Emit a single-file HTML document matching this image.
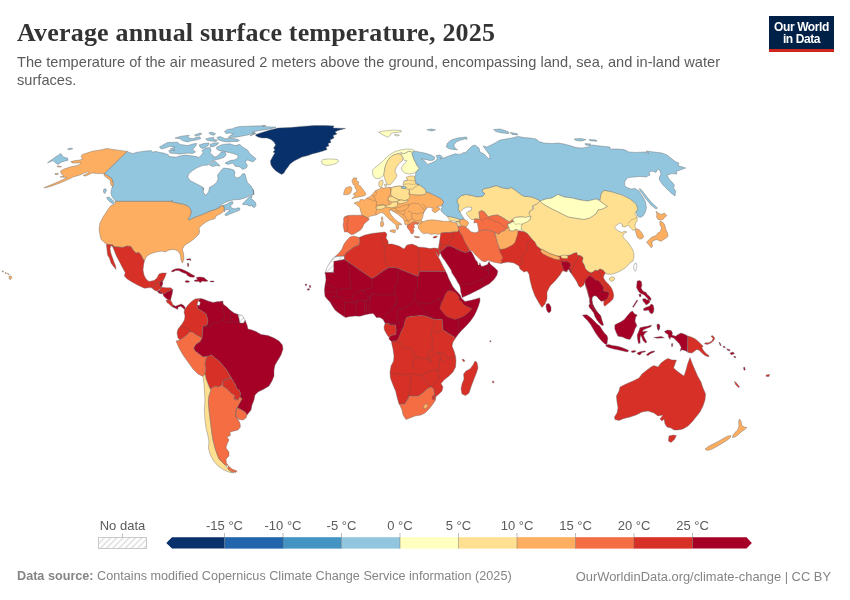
<!DOCTYPE html>
<html lang="en"><head><meta charset="utf-8"><title>Average annual surface temperature, 2025</title>
<style>
html,body{margin:0;padding:0;background:#fff;}
body{width:850px;height:600px;position:relative;overflow:hidden;font-family:"Liberation Sans",sans-serif;}
#title{position:absolute;left:17px;top:17.5px;margin:0;font-family:"Liberation Serif",serif;font-weight:bold;font-size:26px;line-height:30px;color:#333;white-space:nowrap;letter-spacing:0.19px;}
#sub{position:absolute;left:17px;top:53px;margin:0;font-size:14.6px;line-height:18px;color:#5b5b5b;width:760px;letter-spacing:0.013px;}
#logo{position:absolute;left:769px;top:16px;width:65px;height:33px;background:#002147;border-bottom:3px solid #ce261e;color:#fff;font-weight:bold;font-size:12px;line-height:12.2px;text-align:center;letter-spacing:-0.4px;}
#logo span{display:block;}
#logo span:first-child{margin-top:4.5px;}
#foot{position:absolute;left:17px;top:569px;font-size:12.65px;color:#858585;white-space:nowrap;}
#foot b{color:#858585;}
#foot2{position:absolute;right:19px;top:569px;font-size:12.9px;color:#858585;white-space:nowrap;}
svg{position:absolute;left:0;top:0;}
svg text{font-family:"Liberation Sans",sans-serif;}
</style></head><body>
<h1 id="title">Average annual surface temperature, 2025</h1>
<p id="sub">The temperature of the air measured 2 meters above the ground, encompassing land, sea, and in-land water surfaces.</p>
<div id="logo"><span>Our World</span><span>in Data</span></div>
<div id="foot"><b>Data source:</b> Contains modified Copernicus Climate Change Service information (2025)</div>
<div id="foot2">OurWorldinData.org/climate-change | CC BY</div>
<svg width="850" height="600" viewBox="0 0 850 600">
<defs><pattern id="hatch" width="4.4" height="4.4" patternUnits="userSpaceOnUse" patternTransform="rotate(45)"><rect width="4.4" height="4.4" fill="#fff"/><line x1="1" y1="0" x2="1" y2="4.4" stroke="#e0e0e0" stroke-width="1.5"/></pattern></defs>
<g id="map" stroke="#666" stroke-width="0.4" stroke-linejoin="round">
<path fill="#d73027" d="M501.6,263.2 508.0,262.0 514.0,263.0 519.0,266.0 520.0,269.0 524.0,272.0 527.0,271.0 529.0,274.0 530.0,280.0 532.0,288.0 535.0,296.0 539.0,303.0 542.0,307.6 545.0,304.0 547.0,299.0 547.0,292.0 550.0,286.0 555.0,281.0 560.0,275.0 562.4,271.0 564.0,271.0 567.0,272.0 568.0,269.0 569.4,270.6 571.9,274.4 574.4,278.1 576.9,281.9 578.8,286.2 580.6,287.5 583.8,285.0 585.0,281.9 585.6,286.2 586.9,290.0 588.1,294.4 589.4,298.8 589.8,302.5 590.6,305.6 592.8,308.8 595.0,311.9 596.9,315.0 598.8,318.1 600.0,321.2 601.9,324.4 603.1,325.0 601.2,320.0 600.2,316.2 598.1,313.1 596.2,310.6 594.0,306.9 592.5,303.8 591.9,300.0 592.2,296.9 594.4,295.6 596.9,296.2 598.8,298.8 601.2,301.2 603.8,300.6 603.8,304.8 604.8,306.2 607.5,304.0 610.6,301.5 613.0,299.0 613.8,295.6 613.1,291.9 611.5,288.1 608.8,284.4 605.6,281.2 603.5,278.1 603.8,275.6 605.6,273.1 603.1,270.0 600.0,268.8 597.5,270.6 595.0,270.0 592.8,271.9 590.6,272.5 588.1,271.2 585.6,268.8 584.4,265.0 582.5,261.9 583.1,257.5 580.6,255.6 577.5,255.0 576.9,252.5 574.0,253.0 570.0,255.0 566.0,255.6 561.0,256.0 557.0,256.0 551.0,254.0 545.0,251.0 541.0,249.0 537.0,246.0 535.0,242.0 532.0,239.0 529.6,236.0 527.0,233.0 524.0,231.6 520.0,231.0 516.0,231.0 512.0,238.0 506.0,243.0 500.0,247.0 497.0,252.0 498.0,258.0 500.0,263.0Z"/>
<path fill="#08306b" d="M256.0,134.4 262.0,132.4 270.0,130.0 278.0,128.0 290.0,127.6 302.0,126.4 314.0,125.6 326.0,125.6 334.0,126.0 333.0,128.0 345.6,128.4 338.0,130.4 335.0,132.0 337.0,134.0 333.0,135.6 334.0,138.0 330.0,140.0 331.0,142.4 328.0,143.6 329.0,146.0 326.0,147.0 327.0,149.6 323.0,151.0 318.0,152.4 312.0,154.0 308.0,155.6 302.0,157.0 298.0,159.0 294.0,161.0 290.0,164.0 288.0,167.0 285.6,170.0 284.0,173.0 281.6,174.4 279.0,173.0 276.0,171.0 273.0,168.0 271.0,165.0 270.4,161.0 272.0,158.0 273.6,155.0 275.0,153.0 273.0,152.0 275.0,150.0 273.6,148.0 275.6,145.0 274.0,142.0 271.0,139.6 267.0,138.0 262.0,138.0 258.0,137.0 255.6,135.6Z"/>
<path fill="#ffffbf" d="M321.4,161.0 323.0,159.6 328.0,159.0 333.0,159.0 337.6,159.6 338.4,161.6 336.0,163.6 331.0,165.0 326.0,165.4 322.4,164.0Z"/>
<path fill="#fdae61" d="M127.4,151.4 120.0,150.4 110.0,149.0 107.0,148.4 100.0,150.0 92.4,151.2 87.0,153.0 82.4,154.4 81.0,157.0 83.0,159.0 80.0,160.0 75.0,160.6 71.0,161.6 72.0,163.0 78.0,163.0 81.0,162.6 79.0,165.0 70.0,167.0 64.0,169.0 60.6,171.0 61.0,173.6 64.0,176.0 60.0,177.0 67.0,177.4 62.0,180.0 54.0,183.6 44.4,187.4 44.4,188.0 52.0,186.0 60.0,183.0 68.0,179.6 73.0,177.0 80.0,175.0 83.0,173.6 88.0,171.6 89.0,172.4 83.0,175.6 86.0,176.0 92.0,173.0 98.0,173.6 104.4,173.6 109.0,176.4 112.0,178.4 113.6,184.0 113.0,187.0 111.0,185.0 110.0,180.0 107.0,178.0 104.0,175.6 104.4,173.6Z"/>
<path fill="#92c5de" d="M127.4,151.4 104.4,173.6 109.0,176.4 112.0,178.4 113.6,184.0 112.4,187.0 111.6,189.0 111.0,192.0 111.4,195.6 113.4,198.6 115.6,201.4 171.0,201.4 171.9,201.5 171.9,200.6 172.5,202.2 178.8,203.5 183.8,204.4 188.1,206.2 190.6,209.4 191.2,212.5 190.0,216.2 188.1,218.8 189.0,220.2 193.1,218.1 197.5,216.5 201.2,215.0 205.0,213.5 210.0,211.2 215.0,209.8 219.4,207.8 221.2,206.2 224.0,206.0 224.2,212.0 225.2,210.0 228.1,209.5 230.0,210.8 227.5,212.0 224.8,214.6 226.0,215.9 230.0,214.0 235.0,212.1 239.5,210.2 240.0,208.2 237.8,207.8 235.0,209.0 231.2,207.8 230.6,205.6 233.1,203.5 232.5,201.5 230.0,202.2 226.2,204.4 222.5,205.6 220.0,206.9 218.5,206.9 221.2,204.8 224.4,202.8 228.8,201.0 233.8,199.8 240.0,199.4 246.2,197.5 250.0,195.6 253.5,194.4 254.0,192.5 253.1,189.4 253.8,195.0 253.1,190.0 251.2,186.2 247.5,182.5 246.2,178.8 245.0,173.8 242.5,173.8 240.0,176.9 236.2,178.1 234.4,175.6 235.0,172.5 233.8,170.0 230.0,168.8 223.8,168.1 221.9,169.4 220.0,171.9 217.5,175.0 218.1,178.8 216.9,181.9 213.8,185.0 209.4,187.5 208.8,191.2 208.1,192.5 205.6,195.6 203.5,192.5 203.1,187.5 203.8,190.0 202.5,186.9 198.8,185.0 193.8,182.5 189.4,180.0 187.8,176.9 188.8,173.8 192.5,170.6 197.5,167.5 202.5,165.6 208.1,165.0 210.0,163.1 212.5,161.0 215.0,160.0 220.0,158.8 223.8,157.5 226.2,155.0 225.0,151.9 221.2,151.9 220.0,153.8 216.9,156.2 213.1,157.5 213.8,156.2 211.9,154.4 210.0,152.8 211.2,150.6 210.0,147.5 206.2,148.1 201.9,150.6 203.1,152.8 201.2,155.2 199.0,157.5 196.2,156.5 190.0,155.6 185.0,155.0 178.8,156.2 176.2,157.2 168.8,156.5 168.1,154.4 167.5,154.4 163.8,153.1 160.0,152.5 156.2,151.5 152.5,151.9 151.2,150.6 143.8,151.2 137.5,152.2 132.5,153.5 127.8,151.9Z"/>
<path fill="#92c5de" d="M106.6,197.6 109.0,197.0 112.0,199.6 114.4,202.4 113.0,204.0 110.0,202.0 107.6,199.6Z"/>
<path fill="#92c5de" d="M103.6,189.6 105.6,188.6 106.4,190.4 104.8,193.6 103.4,192.0Z"/>
<path fill="#92c5de" d="M242.5,203.8 246.2,200.0 249.4,196.9 252.2,195.6 251.2,198.8 253.1,200.0 255.6,202.5 256.0,205.6 254.4,207.5 252.5,206.9 252.2,205.0 250.0,206.2 247.5,205.0 245.0,204.4 243.1,204.8Z"/>
<path fill="#92c5de" d="M216.9,146.9 222.5,144.4 230.0,143.8 235.0,145.6 240.0,144.4 242.5,146.9 247.5,150.0 250.0,153.8 256.2,158.8 253.1,161.9 247.5,160.0 245.0,161.9 247.5,165.6 246.2,168.1 242.5,169.4 240.0,166.9 235.0,166.2 233.1,163.1 227.5,164.4 225.0,163.1 230.0,160.6 235.0,159.8 238.1,157.5 237.5,155.0 233.8,153.8 230.0,152.8 226.2,151.9 222.5,151.2 218.8,150.6 216.5,149.0Z"/>
<path fill="#92c5de" d="M209.4,165.0 212.5,161.9 215.0,161.2 218.8,164.4 220.0,166.0 216.2,165.6 212.5,166.5Z"/>
<path fill="#92c5de" d="M159.4,146.9 167.5,142.5 177.5,142.2 180.0,144.4 187.5,145.6 193.8,143.8 196.9,143.5 195.0,146.9 192.5,149.4 195.6,151.9 192.5,153.5 187.5,153.1 180.0,154.0 175.0,153.5 170.0,153.1 168.8,150.6 175.0,150.0 170.0,149.0 175.0,147.2 170.0,146.2 165.0,148.1 161.2,149.0Z"/>
<path fill="#92c5de" d="M175.0,138.1 181.2,136.2 189.4,135.2 187.5,137.5 192.5,138.8 196.2,137.5 200.0,136.9 200.6,138.8 196.2,140.0 192.5,140.6 187.5,141.9 182.5,140.6 180.0,138.8Z"/>
<path fill="#92c5de" d="M194.4,135.0 200.0,133.1 201.9,133.8 198.8,135.6 195.6,136.0Z"/>
<path fill="#92c5de" d="M199.0,145.0 203.8,143.5 209.0,143.1 208.1,145.6 205.0,147.8 201.9,148.5 200.0,146.9Z"/>
<path fill="#92c5de" d="M210.0,144.4 213.8,142.9 218.8,142.8 216.9,145.0 212.5,146.9 210.2,146.5Z"/>
<path fill="#92c5de" d="M205.6,139.0 210.0,137.8 213.8,137.5 213.5,139.4 217.5,140.0 216.2,141.5 211.2,141.0 207.5,140.6Z"/>
<path fill="#92c5de" d="M208.8,132.8 211.9,132.2 215.6,133.8 213.8,135.2 210.6,134.4Z"/>
<path fill="#92c5de" d="M216.9,137.5 220.0,136.5 222.5,137.5 225.0,138.8 230.0,138.5 235.0,138.8 239.4,140.0 238.1,141.5 232.5,141.5 227.5,141.9 222.5,141.2 218.8,140.0Z"/>
<path fill="#92c5de" d="M224.4,131.5 227.5,129.4 232.5,128.8 235.0,127.5 240.0,126.5 247.5,126.2 255.0,126.0 266.0,125.6 262.0,126.4 276.0,127.2 270.0,129.0 260.0,130.4 252.0,132.0 256.0,133.6 250.0,136.0 255.0,131.9 252.5,133.8 247.5,135.0 242.5,136.0 237.5,136.9 232.5,137.5 228.1,137.5 230.0,135.6 233.8,134.0 230.0,133.1 226.2,133.5Z"/>
<path fill="#fdae61" d="M115.6,201.4 114.4,204.6 112.0,205.0 110.0,206.6 107.0,211.0 103.0,217.0 100.0,223.0 99.0,229.0 100.0,235.0 101.0,239.4 105.0,243.0 106.4,244.2 113.0,245.0 113.6,246.6 123.0,247.4 127.0,246.0 131.0,246.6 133.0,250.0 136.0,253.0 139.0,252.6 141.0,255.0 143.0,259.0 144.4,261.0 146.0,257.0 150.0,254.0 156.0,252.0 162.0,251.0 165.0,252.0 169.0,250.0 174.0,249.4 178.0,251.0 180.4,255.0 181.0,260.0 182.4,263.0 184.0,259.0 183.6,254.0 182.4,249.0 185.0,245.0 190.0,242.0 195.0,238.0 199.0,234.0 199.6,231.0 199.0,228.0 202.0,225.0 206.0,222.0 210.0,220.0 215.0,218.6 216.0,216.0 220.0,214.0 223.0,212.0 224.4,209.0 223.6,206.6 224.0,206.0 221.2,206.2 219.4,207.8 215.0,209.8 210.0,211.2 205.0,213.5 201.2,215.0 197.5,216.5 193.1,218.1 189.0,220.2 188.1,218.8 190.0,216.2 191.2,212.5 190.6,209.4 188.1,206.2 183.8,204.4 178.8,203.5 172.5,202.2 171.9,200.6 171.9,201.5 171.0,201.4Z"/>
<path fill="#d73027" d="M106.4,244.2 107.0,250.0 107.6,255.0 109.6,258.6 111.0,263.0 113.6,266.6 116.0,269.4 115.6,266.0 114.0,262.0 112.4,257.4 110.8,253.0 110.0,248.6 110.8,245.8 112.4,246.2 114.0,250.0 116.4,256.0 119.6,262.0 122.4,267.4 125.2,272.6 124.4,276.0 127.2,279.0 132.4,282.2 138.4,285.4 144.4,288.2 150.0,287.6 154.4,288.6 155.0,286.0 157.0,284.0 160.0,284.0 161.0,281.0 163.0,281.0 165.0,277.0 166.4,273.0 162.0,273.0 159.0,274.0 157.0,278.0 154.0,280.6 149.0,281.4 146.0,279.0 144.0,275.0 143.0,270.0 143.6,265.0 144.4,261.0 143.0,259.0 141.0,255.0 139.0,252.6 136.0,253.0 133.0,250.0 131.0,246.6 127.0,246.0 123.0,247.4 113.6,246.6 113.0,245.0Z"/>
<path fill="#d73027" d="M155.2,283.1 160.0,281.9 160.0,285.6 161.9,286.9 160.0,288.8 157.5,291.2 155.0,290.6 152.5,288.8 153.8,286.9 155.6,285.0Z"/>
<path fill="#a50026" d="M160.0,281.9 162.5,280.6 162.8,283.8 161.5,286.9 160.0,285.6Z"/>
<path fill="#d73027" d="M160.0,288.8 161.9,287.2 166.2,287.8 170.6,287.8 172.8,289.4 170.0,290.6 166.9,291.9 164.4,293.8 163.1,294.8 161.9,292.5 160.6,291.9 159.4,290.6Z"/>
<path fill="#a50026" d="M157.5,291.2 159.4,290.6 160.6,291.9 162.2,292.8 161.5,294.0 158.8,293.1Z"/>
<path fill="#a50026" d="M163.1,294.8 164.4,293.8 166.9,291.9 170.0,290.6 172.8,289.6 172.2,293.8 171.2,297.5 170.6,300.2 168.1,299.8 165.6,298.1 163.8,296.2Z"/>
<path fill="#d73027" d="M166.2,300.2 168.1,299.8 170.6,300.2 171.9,302.5 173.1,305.0 172.5,306.9 170.6,305.6 168.8,303.8 166.9,302.5Z"/>
<path fill="#a50026" d="M172.5,306.9 173.1,305.0 175.6,306.2 178.8,305.0 181.2,304.0 183.8,305.6 185.2,307.5 184.4,309.8 183.1,308.1 180.6,306.2 178.1,307.2 177.5,309.4 175.0,308.1 173.8,307.5Z"/>
<path fill="#a50026" d="M171.2,271.2 173.8,269.4 177.5,268.5 181.2,269.0 185.0,270.6 188.8,272.5 191.9,274.4 195.0,276.0 193.8,277.2 190.0,276.9 187.5,275.6 186.2,273.8 182.5,272.5 178.8,270.6 175.6,270.6 172.8,271.9Z"/>
<path fill="#a50026" d="M196.2,277.5 200.0,276.9 203.8,277.5 206.2,279.4 208.1,281.0 205.0,281.5 202.5,281.0 200.0,282.8 198.8,281.2 196.2,281.5 194.0,281.0 195.0,280.0 197.5,279.8Z"/>
<path fill="#a50026" d="M185.0,281.0 187.5,280.6 189.8,281.5 188.1,282.5 185.6,282.2Z"/>
<path fill="#a50026" d="M210.2,281.0 213.8,281.0 214.0,281.9 210.6,282.0Z"/>
<path fill="#a50026" d="M186.5,259.0 190.6,258.8 190.9,260.6 189.8,260.0 187.2,260.0Z"/>
<path fill="#a50026" d="M187.2,263.5 188.5,263.2 188.8,266.2 187.8,266.5Z"/>
<path fill="#a50026" d="M220.0,301.5 222.8,301.0 223.1,302.8 220.6,303.2Z"/>
<path fill="#a50026" d="M200.0,298.4 203.0,299.0 208.0,301.0 213.0,302.4 218.0,301.6 222.4,302.0 223.6,304.4 227.0,307.0 230.0,310.0 234.0,313.0 238.0,314.4 239.0,318.0 240.0,323.0 243.6,323.0 245.0,320.0 247.0,325.0 248.0,329.0 252.0,330.0 256.0,331.6 261.0,334.4 268.0,335.6 274.0,338.0 279.0,341.0 282.4,345.0 283.0,349.0 281.0,355.0 278.0,360.0 275.0,365.0 274.0,370.0 274.0,376.0 272.0,381.0 269.0,386.0 264.0,389.0 258.0,392.0 255.0,395.0 254.0,400.0 252.0,405.0 251.0,410.0 247.0,415.0 245.0,412.0 240.0,409.0 237.0,408.0 239.0,404.0 242.0,399.0 240.0,397.0 240.4,393.0 239.0,390.0 237.0,389.0 235.0,384.0 232.0,379.0 229.0,374.0 226.0,369.0 222.4,365.0 219.0,361.0 215.0,358.0 212.0,355.0 207.0,356.4 203.0,357.0 199.0,354.0 195.0,351.0 193.6,348.0 196.0,344.0 200.0,341.6 202.0,338.0 202.4,333.0 203.0,326.0 207.0,325.0 208.0,320.0 206.0,314.0 202.0,311.0 198.0,309.0 197.0,305.0 199.6,305.6 200.4,302.4 198.4,301.0Z"/>
<path fill="url(#hatch)" d="M238.0,314.4 242.4,315.6 245.0,320.0 243.6,323.0 240.0,323.0 239.0,318.0Z"/>
<path fill="#d73027" d="M200.0,298.4 195.0,299.0 191.0,302.0 188.0,305.0 185.0,309.0 184.0,312.0 185.0,316.0 184.4,320.0 182.0,324.0 180.0,326.4 178.0,329.0 177.0,333.0 178.0,338.0 180.0,340.0 183.0,338.0 187.0,335.0 189.6,332.0 192.0,332.0 196.0,335.0 200.0,337.0 202.0,338.0 202.4,333.0 203.0,326.0 207.0,325.0 208.0,320.0 206.0,314.0 202.0,311.0 198.0,309.0 197.0,305.0 198.0,301.0Z"/>
<path fill="#f46d43" d="M176.0,341.0 179.0,348.0 183.0,355.0 188.0,362.0 193.0,369.0 198.0,374.0 203.0,376.4 205.0,374.0 206.0,369.0 205.0,364.0 206.0,359.0 207.0,356.4 203.0,357.0 199.0,354.0 195.0,351.0 193.6,348.0 196.0,344.0 200.0,341.6 202.0,338.0 200.0,337.0 196.0,335.0 192.0,332.0 189.6,332.0 187.0,335.0 183.0,338.0 180.0,340.0Z"/>
<path fill="#d73027" d="M207.0,356.4 212.0,355.0 215.0,358.0 219.0,361.0 222.4,365.0 226.0,369.0 229.0,374.0 231.0,378.0 227.0,379.0 223.0,381.0 222.0,385.0 219.0,387.0 215.0,386.6 212.0,388.0 210.0,389.0 208.0,384.0 206.0,379.0 205.0,374.0 206.0,369.0 205.0,364.0 206.0,359.0Z"/>
<path fill="#d73027" d="M223.0,381.0 227.0,379.0 231.0,378.0 232.0,379.0 235.0,384.0 237.0,389.0 239.0,390.0 240.4,393.0 240.0,397.0 238.0,400.0 234.0,399.6 234.4,395.6 230.0,392.4 227.0,389.0 222.4,386.0Z"/>
<path fill="#fee090" d="M203.0,376.4 205.0,374.0 206.0,379.0 208.0,384.0 210.0,389.0 211.0,390.0 209.0,396.0 208.4,402.0 209.0,410.0 210.0,418.0 211.0,426.0 212.0,434.0 213.0,440.0 215.0,448.0 217.0,454.0 219.0,459.0 223.0,463.0 226.0,465.6 228.0,469.0 231.0,471.6 234.0,473.0 230.0,472.4 224.0,470.0 218.0,466.0 213.0,460.0 210.0,454.0 208.4,448.0 209.0,442.0 208.0,436.0 206.0,428.0 205.0,420.0 204.4,410.0 205.0,400.0 204.4,390.0 204.0,384.0Z"/>
<path fill="#f46d43" d="M210.0,389.0 212.0,388.0 215.0,386.6 219.0,387.0 222.0,385.0 222.4,386.0 227.0,389.0 230.0,392.4 234.4,395.6 234.0,399.6 238.0,400.0 240.0,397.0 242.0,399.0 239.0,404.0 237.0,408.0 235.6,412.0 236.0,417.0 238.0,419.6 240.0,423.0 240.4,427.0 238.0,430.0 234.0,431.0 230.0,432.0 230.4,435.6 227.0,437.0 229.0,440.0 227.0,444.0 226.0,448.0 229.0,452.0 229.0,456.0 226.0,459.0 226.4,463.0 228.0,465.0 226.0,465.6 223.0,463.0 219.0,459.0 217.0,454.0 215.0,448.0 213.0,440.0 212.0,434.0 211.0,426.0 210.0,418.0 209.0,410.0 208.4,402.0 209.0,396.0 211.0,390.0Z"/>
<path fill="#f46d43" d="M228.0,465.6 232.0,469.0 237.0,471.0 236.0,472.4 231.0,471.6 228.0,469.0Z"/>
<path fill="#f46d43" d="M237.0,408.0 240.0,409.0 245.0,412.0 247.0,415.0 246.0,418.0 243.0,420.0 239.0,419.6 236.0,417.0 235.6,412.0Z"/>
<path fill="#fdae61" d="M361.9,215.2 360.6,211.2 359.8,207.5 356.2,204.4 354.0,203.1 356.9,201.9 360.0,201.5 359.8,199.8 361.9,199.4 364.4,200.0 366.9,198.1 369.4,196.9 371.9,195.0 373.8,192.5 375.6,190.6 377.5,189.8 380.0,189.0 381.2,187.5 383.8,188.1 386.9,187.5 390.0,187.2 391.2,187.8 395.0,186.5 400.0,186.0 402.5,186.5 405.0,185.6 408.1,188.1 415.0,194.8 420.0,195.0 425.0,194.4 426.2,191.9 430.0,193.1 436.2,196.2 441.2,198.8 443.8,201.9 441.9,205.6 439.0,206.2 436.5,207.0 438.2,207.4 440.0,208.2 439.4,209.8 437.5,211.2 435.0,212.8 432.8,211.5 431.9,209.8 433.5,208.2 431.2,207.8 429.4,207.2 428.0,207.5 426.2,208.5 424.8,210.6 424.0,212.2 423.1,215.0 422.5,218.1 421.2,220.6 423.1,221.9 421.2,223.8 418.8,223.1 415.0,221.9 411.9,222.5 410.0,224.4 407.5,225.0 405.0,224.4 404.4,221.2 403.1,218.8 398.8,215.0 395.0,212.5 391.9,210.6 390.0,210.0 389.4,211.9 391.2,215.0 393.8,218.1 396.9,221.2 400.0,223.1 401.9,224.4 400.0,225.0 398.1,224.4 398.8,227.5 397.5,230.0 396.2,228.1 396.0,225.0 393.1,222.5 390.0,220.0 387.5,217.5 385.0,214.8 383.1,213.1 380.6,212.5 378.1,214.0 376.2,215.0 373.1,215.6 370.0,216.2 368.1,218.1Z"/>
<path fill="#fdae61" d="M390.0,230.6 392.5,229.8 395.6,230.0 395.0,232.8 392.5,232.2 390.2,231.5Z"/>
<path fill="#fdae61" d="M380.6,221.9 383.1,221.2 383.8,224.4 382.5,226.9 380.6,226.2Z"/>
<path fill="#fdae61" d="M381.2,217.5 382.5,216.9 382.9,220.0 381.6,220.6Z"/>
<path fill="#fdae61" d="M351.9,180.6 353.8,177.8 356.9,178.1 356.2,180.6 358.8,181.9 358.1,184.4 360.6,186.2 362.5,188.8 364.4,191.2 366.0,193.8 365.0,195.6 361.2,196.5 357.5,197.2 353.8,198.1 351.9,198.5 354.4,196.2 355.6,195.0 353.1,194.4 355.0,192.5 356.9,191.9 356.2,189.4 354.8,187.5 355.0,185.6 353.1,184.4 352.5,182.5Z"/>
<path fill="#fdae61" d="M343.5,194.4 344.4,190.6 345.6,188.1 348.1,186.9 350.6,186.5 351.9,188.1 351.5,190.6 350.6,193.1 348.1,194.4 345.6,194.8Z"/>
<path fill="#f46d43" d="M344.4,216.9 347.5,215.6 352.5,215.2 357.5,215.2 361.9,215.2 368.1,218.1 369.4,219.4 366.2,221.9 363.8,224.4 362.5,227.5 360.6,230.0 357.5,231.9 354.4,233.8 351.9,234.8 350.0,233.8 347.5,231.9 344.4,231.9 343.8,228.8 343.1,225.0 343.8,221.2 343.5,218.8Z"/>
<path fill="#fee090" d="M378.8,181.9 380.6,180.6 382.5,180.0 383.1,182.5 382.2,185.6 380.6,187.5 379.0,186.2Z"/>
<path fill="#fee090" d="M384.4,184.4 386.5,184.0 386.9,186.0 385.0,186.5Z"/>
<path fill="#fee090" d="M391.2,187.8 395.0,186.5 400.0,186.0 402.5,187.5 408.1,188.1 409.4,190.6 408.8,193.8 410.0,196.9 408.1,199.4 405.0,200.6 401.2,200.0 398.1,199.4 395.0,198.1 391.9,196.2 390.6,193.8 391.2,190.6Z"/>
<path fill="#fee090" d="M388.1,197.5 391.9,196.2 395.0,198.1 398.1,199.4 398.8,200.6 396.2,201.9 392.5,202.2 390.0,201.2 388.1,199.4Z"/>
<path fill="#fee090" d="M398.8,200.6 401.2,200.0 405.0,200.6 408.1,200.0 407.5,201.9 403.8,203.1 400.0,203.8 397.8,203.1 397.5,201.5Z"/>
<path fill="#fee090" d="M385.6,205.6 390.0,204.4 392.5,202.2 396.2,201.9 397.8,203.1 397.5,205.6 395.0,207.2 391.2,207.8 388.1,207.2 385.6,206.9Z"/>
<path fill="#fee090" d="M376.2,206.9 378.8,205.6 382.5,205.0 385.6,205.6 385.6,207.2 383.1,208.8 380.0,209.4 377.5,209.4 376.0,208.5Z"/>
<path fill="#fee090" d="M408.1,188.1 411.2,185.6 415.0,183.8 418.1,183.8 421.2,186.2 425.0,188.8 426.2,191.9 425.0,194.4 420.0,195.0 415.0,194.8 410.0,194.4 409.4,190.6Z"/>
<path fill="#fee090" d="M406.2,177.2 410.0,176.0 414.4,176.0 415.0,178.8 416.2,183.8 418.8,185.0 415.0,186.9 412.5,189.0 408.1,189.4 403.8,188.1 403.1,185.0 403.5,181.9 405.6,180.6 408.1,180.0 406.5,178.8Z"/>
<path fill="#92c5de" d="M401.2,186.9 403.8,186.2 406.5,187.2 405.6,188.5 401.9,188.5Z"/>
<path fill="#f46d43" d="M407.5,225.0 410.0,224.4 411.9,222.5 415.0,221.9 418.8,223.1 418.1,224.4 415.0,224.0 413.8,225.6 414.8,227.5 413.1,228.1 414.0,230.6 413.1,233.5 411.2,233.8 410.0,231.2 408.1,228.8 406.9,226.9Z"/>
<path fill="#f46d43" d="M414.0,236.2 416.9,236.5 420.0,237.1 417.5,237.9 414.8,237.2Z"/>
<path fill="#ffffbf" d="M372.5,170.0 375.0,167.5 380.0,163.8 385.0,158.8 390.0,154.4 395.0,151.5 401.2,149.8 407.5,149.0 412.5,149.4 414.4,151.0 411.9,152.2 408.8,151.2 406.2,152.8 403.8,153.8 401.2,152.8 397.5,153.8 393.8,155.0 390.6,156.9 388.1,160.0 386.2,163.8 385.0,167.5 384.4,171.2 383.8,175.0 381.2,177.5 378.1,178.8 375.0,178.1 372.8,175.0Z"/>
<path fill="#fee090" d="M388.1,160.0 390.6,156.9 393.8,155.0 397.5,153.8 401.2,154.4 403.1,157.5 402.5,160.6 400.0,162.5 397.5,165.6 395.6,168.8 395.0,171.9 396.9,174.4 396.2,177.5 393.8,180.6 391.9,183.1 390.0,185.0 387.5,184.4 385.6,181.2 384.4,177.5 383.8,175.0 384.4,171.2 385.0,167.5 386.2,163.8Z"/>
<path fill="#ffffbf" d="M401.2,152.8 403.8,153.8 406.2,152.8 408.8,151.2 411.9,152.2 412.5,155.0 413.8,158.8 415.6,162.5 417.5,166.2 419.4,168.1 416.9,171.2 413.1,173.5 408.8,174.0 405.0,173.1 402.5,171.2 401.2,168.1 403.1,165.0 405.6,162.5 406.9,160.6 404.4,160.6 403.1,157.5 401.2,154.4Z"/>
<path fill="#ffffbf" d="M378.5,132.2 382.5,131.2 388.8,130.6 393.8,130.0 401.2,130.6 401.2,131.9 396.2,132.5 391.2,133.1 390.0,135.6 387.5,137.2 384.4,135.6 381.2,134.0Z"/>
<path fill="#ffffbf" d="M394.4,134.8 397.5,134.4 399.4,135.2 396.9,136.0Z"/>
<path fill="#fdae61" d="M420.0,223.8 422.5,221.9 427.5,220.2 432.5,219.8 438.8,220.6 445.0,221.5 450.0,221.2 456.2,223.1 458.1,226.2 458.8,230.0 457.5,231.9 453.8,231.9 450.0,232.5 445.0,232.5 441.2,233.1 438.8,234.4 435.0,233.8 431.2,234.4 427.5,233.1 423.8,233.8 421.2,231.9 420.0,230.0 418.5,228.8 418.1,225.6Z"/>
<path fill="#fee090" d="M447.2,216.2 451.2,216.9 456.2,218.1 460.0,219.8 459.4,221.5 456.2,221.5 452.5,220.6 450.0,221.2 448.8,218.8Z"/>
<path fill="#fee090" d="M456.2,221.5 459.4,221.9 460.6,224.4 461.9,226.2 460.0,226.5 458.1,224.4 456.2,223.1Z"/>
<path fill="#fdae61" d="M460.0,219.8 463.1,218.8 467.5,221.2 468.8,223.1 467.5,225.0 466.2,227.5 463.8,226.2 461.9,226.2 460.6,224.4 459.4,221.9Z"/>
<path fill="#d73027" d="M433.1,236.9 435.6,236.0 437.5,236.2 435.6,238.1 433.5,238.1Z"/>
<path fill="#fee090" d="M457.5,199.4 461.2,195.6 466.2,194.4 472.5,195.6 477.5,196.9 482.5,196.2 485.0,193.8 481.9,191.2 483.8,188.8 490.0,187.5 496.2,185.6 501.2,187.5 507.5,188.8 511.2,187.5 515.0,190.0 520.0,193.8 523.8,196.2 532.0,197.0 539.0,200.0 540.0,201.0 537.0,204.0 532.0,206.0 533.0,209.0 529.0,212.0 531.0,216.0 526.0,217.6 520.0,216.9 515.0,217.5 512.5,219.4 509.4,221.9 506.2,220.0 502.5,217.5 497.5,215.0 492.5,215.6 488.1,216.9 485.0,212.5 481.9,210.6 479.0,211.9 479.4,215.6 480.0,219.4 476.2,218.8 473.8,219.4 471.2,219.4 468.1,216.2 466.2,213.1 468.1,211.2 471.2,210.6 471.9,207.5 467.5,206.9 463.1,208.8 460.0,212.5 458.1,208.8 458.8,205.0 456.9,201.9Z"/>
<path fill="#f46d43" d="M479.0,211.9 481.9,210.6 485.0,212.5 488.1,216.9 492.5,215.6 497.5,215.0 502.5,217.5 506.2,220.0 509.4,221.9 512.5,219.4 513.8,221.2 510.0,223.1 507.5,224.4 508.8,227.5 506.2,228.8 505.0,230.6 501.2,231.9 498.8,234.4 495.0,232.5 490.0,230.6 485.0,230.0 481.2,230.6 478.8,231.2 478.1,227.5 477.5,223.8 476.2,222.5 473.8,223.1 474.4,220.6 473.8,219.4 476.2,218.8 480.0,219.4 479.4,215.6Z"/>
<path fill="#ffffbf" d="M512.5,219.4 515.0,217.5 520.0,216.9 526.0,217.2 531.0,216.0 530.0,220.0 527.0,222.4 522.5,224.4 523.8,228.1 520.0,230.6 516.2,229.4 512.5,231.2 509.4,230.6 508.8,227.5 507.5,224.4 510.0,223.1 513.8,221.2Z"/>
<path fill="#f46d43" d="M458.1,226.2 461.9,226.2 463.8,226.2 466.2,227.5 468.8,229.4 471.2,231.9 475.6,232.8 478.8,231.2 481.2,230.6 485.0,230.0 490.0,230.6 495.0,232.5 496.2,237.5 497.5,242.5 498.8,246.2 500.0,251.9 501.9,255.6 503.1,258.1 501.2,260.0 501.9,263.1 501.2,263.5 495.0,262.5 490.0,261.0 488.1,260.0 485.0,261.9 481.2,260.6 478.1,257.5 475.0,254.4 472.5,251.2 470.0,250.6 469.4,250.0 468.1,247.5 466.2,245.0 463.1,241.2 462.5,237.5 460.6,233.8 458.8,230.0Z"/>
<path fill="#fdae61" d="M495.0,232.5 498.8,234.4 501.2,231.9 505.0,230.6 506.2,228.8 508.8,227.5 509.4,230.6 512.5,231.2 516.2,229.4 518.1,231.2 517.5,235.0 516.2,238.8 515.0,242.5 512.5,245.0 508.8,246.9 505.0,248.8 500.0,249.4 497.5,242.5 496.2,237.5Z"/>
<path fill="#92c5de" d="M414.4,151.0 418.8,151.9 425.0,153.1 431.2,155.0 435.0,157.5 433.8,160.0 430.0,160.6 425.0,159.4 421.2,158.8 425.0,161.2 427.5,164.4 431.2,163.1 435.0,161.2 437.5,158.8 436.2,155.6 440.0,155.0 442.5,156.9 440.0,158.8 445.0,157.5 450.0,155.6 455.0,153.8 460.0,154.4 463.8,152.5 466.0,152.8 466.0,152.0 472.0,146.0 475.0,145.0 479.0,148.0 480.0,152.0 484.0,154.0 488.0,158.0 490.0,159.0 489.6,155.0 486.0,150.0 483.0,146.0 487.0,147.0 491.0,145.0 495.0,143.0 500.0,140.0 506.0,139.0 512.0,138.0 518.0,136.4 524.0,137.6 530.0,138.0 536.0,139.0 539.0,141.6 544.0,143.0 552.0,143.6 558.0,143.0 564.0,144.0 570.0,145.6 576.0,147.6 582.0,148.0 588.0,147.0 592.0,145.0 600.0,146.0 610.0,147.0 610.0,149.0 618.0,149.0 624.0,149.6 629.0,152.0 636.0,152.4 645.0,152.0 649.0,153.6 646.0,151.0 654.0,152.0 662.0,153.0 667.0,155.0 672.0,159.0 676.0,162.0 679.0,163.0 678.0,165.6 685.6,168.0 680.0,170.0 676.0,171.6 677.0,174.0 672.0,173.6 667.0,175.0 669.0,179.0 672.0,182.0 674.4,185.0 673.6,188.0 675.6,191.0 675.0,196.0 671.0,193.0 667.0,189.0 663.0,185.0 660.0,181.0 659.0,178.0 661.0,174.0 659.6,170.0 658.0,169.0 656.0,172.4 652.0,171.0 649.0,172.4 650.0,175.0 646.0,177.0 640.0,176.4 634.0,177.0 628.0,177.6 625.0,181.0 624.4,185.0 627.0,187.6 631.0,189.0 635.0,188.4 639.0,191.0 643.0,197.0 645.6,202.0 646.4,208.0 645.0,213.0 643.0,216.0 640.0,217.6 637.6,216.0 636.0,212.0 637.0,208.0 635.0,204.0 630.0,200.0 624.0,197.0 619.0,195.0 614.0,193.0 610.0,191.6 604.0,190.4 601.0,194.0 600.0,200.0 596.0,199.0 588.0,201.0 580.0,200.0 572.0,198.0 564.0,197.0 558.0,194.4 552.0,198.0 546.0,199.0 540.0,201.0 539.0,200.0 532.0,197.0 523.8,196.2 520.0,193.8 515.0,190.0 511.2,187.5 507.5,188.8 501.2,187.5 496.2,185.6 490.0,187.5 483.8,188.8 481.9,191.2 485.0,193.8 482.5,196.2 477.5,196.9 472.5,195.6 466.2,194.4 461.2,195.6 457.5,199.4 456.9,201.9 458.8,205.0 458.1,208.8 460.0,212.5 462.5,216.2 464.4,219.4 463.1,218.8 460.0,219.8 456.2,218.1 451.2,216.9 447.2,216.2 445.0,214.8 442.5,212.5 440.6,210.0 441.9,207.8 441.9,205.6 443.8,201.9 441.2,198.8 436.2,196.2 430.0,193.1 426.2,191.9 425.0,188.8 421.2,186.2 418.1,183.8 418.8,185.0 416.2,183.8 415.0,178.8 415.6,175.0 415.6,173.1 416.9,171.2 419.4,168.1 417.5,166.2 415.6,162.5 413.8,158.8 412.5,155.0 412.5,152.8Z"/>
<path fill="#92c5de" d="M446.2,146.9 447.5,143.1 451.2,140.0 457.5,138.1 466.0,136.9 467.0,137.6 467.0,139.6 466.0,138.8 460.0,140.2 456.2,141.9 453.8,145.0 455.0,148.1 457.5,149.8 452.5,149.4 448.8,148.5Z"/>
<path fill="#92c5de" d="M426.9,129.8 431.2,129.0 435.6,129.8 431.9,131.0Z"/>
<path fill="#92c5de" d="M493.6,129.6 500.0,129.0 508.0,131.6 509.0,133.6 502.0,133.0 496.0,131.6Z"/>
<path fill="#92c5de" d="M510.0,132.4 517.0,133.6 518.0,135.0 512.0,134.4Z"/>
<path fill="#92c5de" d="M574.0,139.0 580.0,138.4 586.0,139.6 582.0,141.0 576.0,140.6Z"/>
<path fill="#92c5de" d="M589.0,139.6 596.0,140.0 597.0,141.2 590.0,140.8Z"/>
<path fill="#92c5de" d="M585.0,143.6 591.0,144.0 590.0,145.4 585.6,145.0Z"/>
<path fill="#92c5de" d="M639.6,188.4 642.0,190.4 647.0,197.0 652.0,203.0 657.6,208.0 656.0,209.0 651.0,205.0 646.0,199.0 642.0,193.0 639.6,190.0Z"/>
<path fill="#92c5de" d="M47.5,162.8 51.2,160.0 56.2,156.5 60.9,153.5 63.1,156.9 67.5,158.1 68.1,160.2 64.4,161.2 61.2,162.2 58.1,164.4 55.6,163.1 53.1,160.6 50.0,161.9Z"/>
<path fill="#92c5de" d="M67.5,149.0 71.2,148.1 72.8,148.8 69.4,149.8Z"/>
<path fill="#fdae61" d="M56.9,166.0 61.2,166.2 61.2,167.1 57.5,166.9Z"/>
<path fill="#fdae61" d="M55.0,173.5 58.1,173.2 58.1,174.4 55.2,174.5Z"/>
<path fill="#ffffbf" d="M540.0,201.0 546.0,199.0 552.0,198.0 558.0,194.4 564.0,197.0 572.0,198.0 580.0,200.0 588.0,201.0 596.0,199.0 600.0,201.0 604.0,204.0 607.6,206.4 603.0,209.0 598.0,210.0 596.0,214.0 590.0,218.0 584.0,219.6 576.0,218.4 568.0,217.0 560.0,213.0 554.0,210.0 548.0,207.0 543.0,204.0Z"/>
<path fill="#fee090" d="M540.0,201.0 543.0,204.0 548.0,207.0 554.0,210.0 560.0,213.0 568.0,217.0 576.0,218.4 584.0,219.6 590.0,218.0 596.0,214.0 598.0,210.0 603.0,209.0 607.6,206.4 604.0,204.0 600.0,201.0 601.0,194.0 604.0,190.4 612.0,192.0 622.0,195.0 630.0,199.0 636.0,204.0 637.8,208.8 636.0,211.9 634.8,213.8 637.2,216.9 637.2,220.6 635.6,223.1 634.8,226.2 636.2,228.1 635.2,229.8 632.8,230.2 630.6,228.1 628.1,225.0 625.0,226.9 621.9,226.2 622.5,224.4 620.0,222.8 616.9,225.0 614.4,227.2 616.2,229.4 618.8,231.2 621.9,232.5 624.4,231.2 626.9,231.9 624.4,233.1 622.5,236.2 625.0,239.4 628.1,242.5 630.6,246.2 632.8,250.0 634.0,253.8 633.8,258.1 632.8,261.2 630.2,262.5 628.8,264.4 625.0,268.1 620.0,271.2 615.6,273.1 612.5,273.8 611.2,275.0 610.0,273.8 608.1,274.4 605.6,273.1 603.1,270.0 600.0,268.8 597.5,270.6 595.0,270.0 592.8,271.9 590.6,272.5 588.1,271.2 585.6,268.8 584.4,265.0 582.5,261.9 583.1,257.5 580.6,255.6 577.5,255.0 576.9,252.5 574.0,253.0 570.0,255.0 566.0,255.6 561.0,256.0 557.0,256.0 551.0,254.0 545.0,251.0 541.0,249.0 537.0,246.0 535.0,242.0 532.0,239.0 529.6,236.0 527.0,233.0 524.0,231.6 524.0,232.0 521.0,228.0 522.0,224.0 527.0,222.0 530.0,220.0 531.0,217.0 529.0,214.0 530.0,211.0 534.0,209.0 533.0,206.0 537.0,204.0 540.0,201.0Z"/>
<path fill="#fee090" d="M609.4,278.1 611.2,276.9 614.0,277.2 614.8,279.0 613.1,281.0 610.6,281.2 609.4,280.0Z"/>
<path fill="#fdfdfd" d="M633.5,266.9 634.8,263.5 636.2,263.1 636.9,265.6 636.2,269.4 635.2,271.2 634.0,269.4Z"/>
<path fill="#fdae61" d="M635.2,229.8 637.5,228.8 640.0,230.6 642.5,233.8 643.8,236.9 641.9,238.8 639.4,239.0 637.2,236.9 636.2,233.8Z"/>
<path fill="#fdae61" d="M656.0,211.2 658.1,213.1 661.2,214.4 664.4,213.1 666.9,215.6 665.0,216.9 663.1,219.4 660.6,220.0 658.1,219.4 656.5,216.9 656.9,214.4Z"/>
<path fill="#fdae61" d="M660.0,221.2 662.5,221.9 664.8,225.0 665.6,228.8 667.5,233.1 668.1,236.2 666.2,238.1 663.8,239.4 661.2,241.2 658.8,240.6 656.9,239.4 655.0,240.0 652.5,241.2 651.9,243.1 652.5,246.2 651.2,247.8 649.4,245.6 648.1,243.8 646.5,242.5 648.1,240.6 650.6,238.1 653.1,236.5 656.2,235.6 657.8,233.1 660.6,231.2 661.5,227.5 659.8,224.4Z"/>
<path fill="#fdae61" d="M541.0,249.0 545.0,251.0 551.0,254.0 557.0,256.0 560.0,257.0 559.6,260.0 554.0,259.0 548.0,256.4 543.0,254.0 540.6,251.6Z"/>
<path fill="#fee090" d="M561.0,255.6 565.0,255.0 568.0,256.0 567.6,258.4 563.0,258.4 561.0,257.6Z"/>
<path fill="#a50026" d="M561.2,260.6 563.8,261.9 566.2,261.2 570.0,263.1 570.6,265.6 569.4,267.5 570.6,270.0 571.9,273.1 570.6,272.5 568.8,268.8 566.9,270.6 565.0,271.2 563.1,268.1 561.9,264.4Z"/>
<path fill="#a50026" d="M546.4,304.0 549.0,303.6 551.0,307.0 551.0,311.0 549.0,313.0 547.0,311.0 546.0,307.0Z"/>
<path fill="#a50026" d="M590.0,275.6 591.9,276.9 593.8,278.1 595.6,280.6 597.5,280.0 599.8,281.9 601.9,285.0 603.8,287.5 603.1,290.6 605.0,291.5 608.1,291.9 609.0,293.8 608.1,296.9 606.5,299.4 603.8,300.6 601.2,301.2 598.8,298.8 596.9,296.2 594.4,295.6 592.2,296.9 591.9,300.0 592.5,303.8 594.0,306.9 596.2,310.6 598.1,313.1 600.2,316.2 601.2,320.0 603.1,325.0 601.9,324.4 600.0,321.2 598.8,318.1 596.9,315.0 595.0,311.9 592.8,308.8 590.6,305.6 589.8,302.5 590.0,298.8 588.5,293.8 587.8,290.0 586.2,286.2 585.0,281.9 585.6,279.4 588.1,276.9Z"/>
<path fill="#a50026" d="M582.5,315.0 586.9,314.8 590.6,317.5 593.8,320.6 596.9,323.8 600.0,326.2 601.9,329.4 604.4,333.1 606.9,335.6 607.8,338.1 606.9,344.4 605.0,344.0 601.9,341.2 598.8,337.5 595.6,333.1 593.1,328.8 590.6,324.4 587.5,320.6 584.4,317.5Z"/>
<path fill="#a50026" d="M588.8,305.0 590.6,303.8 592.5,306.9 594.4,310.0 597.5,312.5 600.6,315.6 601.9,320.0 603.5,325.0 601.9,325.6 599.4,323.1 596.9,320.0 594.8,316.2 593.8,313.1 591.2,309.4 589.4,307.5Z"/>
<path fill="#a50026" d="M605.6,345.0 608.8,344.4 612.5,345.6 617.5,346.2 621.9,347.5 625.6,349.0 628.8,350.6 627.5,351.9 623.1,351.0 618.8,350.0 613.8,349.0 609.4,347.8 606.5,346.5Z"/>
<path fill="#a50026" d="M631.2,351.2 633.8,350.6 636.2,351.0 634.4,352.2 631.9,352.5Z"/>
<path fill="#a50026" d="M636.9,353.1 639.4,351.9 642.5,351.2 645.6,351.0 645.0,351.9 641.9,352.5 640.0,355.0 638.1,354.4Z"/>
<path fill="#a50026" d="M646.2,355.0 648.8,352.8 651.9,351.2 655.0,351.0 653.8,352.2 650.6,353.5 648.1,355.6Z"/>
<path fill="#a50026" d="M614.8,325.0 616.9,323.8 620.6,321.9 624.4,319.4 627.5,315.6 630.6,311.9 632.5,311.0 634.4,313.8 637.2,315.0 635.6,317.5 635.0,321.2 636.9,325.6 635.0,328.8 633.8,332.5 631.9,336.2 630.0,339.4 626.2,338.8 622.5,336.9 618.1,336.2 616.2,332.5 614.8,328.8Z"/>
<path fill="#a50026" d="M640.0,327.8 643.1,326.9 647.5,326.2 651.5,325.0 650.6,326.9 646.2,328.5 643.1,330.0 642.5,331.9 645.0,331.2 647.5,331.5 645.0,333.1 643.5,335.6 645.0,338.8 646.9,341.9 645.6,343.1 643.1,340.6 641.9,337.5 640.6,335.0 640.0,338.8 640.2,343.1 638.5,343.5 637.5,338.8 637.2,335.0 638.8,331.2Z"/>
<path fill="#a50026" d="M657.2,324.4 659.0,324.0 660.0,326.2 659.4,329.4 658.1,330.6 657.5,327.8Z"/>
<path fill="#a50026" d="M653.8,337.5 657.5,336.9 661.2,336.5 664.4,337.8 661.2,338.1 656.9,338.2Z"/>
<path fill="#a50026" d="M637.2,281.0 640.0,280.4 641.5,281.9 641.9,285.6 641.0,288.1 643.1,291.2 646.2,292.5 647.2,294.4 649.4,296.2 651.2,298.8 650.6,300.6 648.5,299.4 646.2,296.9 644.4,295.0 642.2,294.0 640.0,293.1 638.1,290.6 636.5,287.5 636.9,283.8Z"/>
<path fill="#a50026" d="M638.8,294.4 640.6,294.0 641.2,296.2 639.8,296.9Z"/>
<path fill="#a50026" d="M642.5,299.0 645.0,298.5 646.9,300.0 648.8,299.4 650.0,301.9 648.1,303.8 646.2,305.0 644.8,303.1 643.1,301.2Z"/>
<path fill="#a50026" d="M643.5,308.8 646.2,307.2 649.4,306.2 651.2,304.0 653.1,305.0 654.0,308.8 653.5,311.9 651.9,314.0 649.8,312.5 648.5,310.0 645.6,310.6 643.8,310.6Z"/>
<path fill="#a50026" d="M632.5,306.9 636.9,300.0 637.8,300.6 633.5,307.2Z"/>
<path fill="#a50026" d="M664.4,331.5 667.5,330.0 671.2,330.6 672.5,333.1 671.9,335.0 675.6,336.2 678.1,334.4 681.2,333.1 685.0,334.4 687.8,336.0 687.5,351.9 685.0,350.6 681.9,349.8 680.0,351.2 681.2,347.5 679.4,343.8 676.2,340.6 673.8,338.1 670.6,336.9 670.0,339.4 668.5,336.9 668.1,334.4 665.6,333.1Z"/>
<path fill="#d73027" d="M687.8,336.0 691.2,336.9 695.0,338.8 698.1,341.2 700.6,343.8 703.1,346.2 701.9,347.5 703.1,350.0 705.6,353.1 708.8,355.6 708.8,356.9 705.0,355.6 701.9,353.1 699.4,350.6 696.9,349.4 694.4,351.2 691.9,353.1 687.8,352.5Z"/>
<path fill="#d73027" d="M704.4,343.8 707.5,344.4 711.2,342.8 713.8,340.6 714.8,338.1 712.5,335.6 711.0,336.2 713.1,338.5 711.9,341.0 708.8,342.8 705.6,342.8Z"/>
<path fill="#a50026" d="M719.0,342.2 720.0,342.8 721.2,345.6 720.2,345.6Z"/>
<path fill="#a50026" d="M723.1,346.2 725.0,346.6 725.2,347.8 723.5,347.5Z"/>
<path fill="#a50026" d="M726.9,348.8 730.0,349.8 730.0,350.9 727.2,350.0Z"/>
<path fill="#a50026" d="M730.0,353.1 733.1,351.9 734.4,353.8 731.2,354.8Z"/>
<path fill="#a50026" d="M733.8,356.2 735.6,356.5 735.8,357.8 734.0,357.5Z"/>
<path fill="#a50026" d="M743.5,367.5 744.8,367.2 745.2,370.0 744.0,370.2Z"/>
<path fill="#a50026" d="M656.9,325.0 658.5,324.0 659.4,326.2 658.8,330.0 657.5,328.8Z"/>
<path fill="#a50026" d="M671.5,343.8 672.8,343.5 672.5,346.5 671.6,346.5Z"/>
<path fill="#d73027" d="M690.0,357.6 692.4,364.0 695.0,370.0 697.6,376.0 701.0,382.0 703.0,388.0 705.6,394.0 705.0,400.0 703.0,406.0 700.0,412.0 696.0,417.0 692.0,422.0 688.0,426.0 683.0,429.0 678.0,430.0 674.0,430.0 671.0,428.0 667.0,427.0 665.0,424.0 664.0,419.0 662.0,421.0 660.0,419.0 663.0,415.0 658.0,416.0 654.0,413.0 648.0,411.0 642.0,412.0 636.0,415.0 630.0,417.0 624.0,418.4 619.0,420.4 615.0,419.6 614.4,417.0 617.0,413.0 618.0,408.0 617.0,402.0 616.4,396.0 619.0,391.0 620.0,387.0 626.0,384.0 633.0,381.0 639.0,378.0 642.0,374.0 647.0,370.0 651.0,367.0 654.0,365.6 658.0,367.0 661.0,363.0 665.0,360.0 668.0,358.4 672.0,360.0 676.4,360.0 675.0,364.0 673.6,368.0 677.0,371.0 681.0,374.0 684.0,376.0 686.0,370.0 687.6,364.0Z"/>
<path fill="#d73027" d="M669.0,436.0 673.0,435.0 676.4,435.6 674.4,439.6 671.0,442.4 668.4,441.0Z"/>
<path fill="#fdae61" d="M739.4,419.0 741.0,421.0 741.6,425.0 744.0,427.0 747.0,427.6 744.0,430.0 741.0,432.0 738.0,435.0 735.0,437.0 732.4,437.6 733.0,435.0 735.0,432.4 737.6,430.0 739.0,426.0 738.6,422.0Z"/>
<path fill="#fdae61" d="M731.0,435.6 730.0,438.0 726.0,441.0 721.0,444.0 716.0,447.0 711.0,449.6 707.0,450.4 705.0,449.0 709.0,446.0 714.0,443.6 719.0,441.0 724.0,438.0 728.0,436.0Z"/>
<path fill="#d73027" d="M734.4,381.6 736.0,382.4 739.6,387.0 738.4,387.6 735.6,384.4Z"/>
<path fill="#d73027" d="M766.0,375.0 769.6,374.4 769.0,376.4 766.4,376.6Z"/>
<path fill="#f46d43" d="M335.0,256.6 339.0,253.0 342.0,249.0 344.0,244.0 347.0,240.0 350.0,237.0 354.0,236.0 359.0,237.4 360.0,241.0 359.0,245.0 354.0,247.0 350.0,250.0 346.0,253.0 344.4,256.0Z"/>
<path fill="url(#hatch)" d="M334.0,257.0 344.4,256.0 344.4,259.4 339.0,260.6 336.0,266.0 333.0,272.0 325.0,273.6 326.4,268.6 329.0,264.0 331.6,260.0Z"/>
<path fill="#d73027" d="M344.4,256.0 346.0,253.0 350.0,250.0 354.0,247.0 359.0,245.0 360.0,241.0 359.0,237.4 365.0,235.0 372.0,233.4 380.0,232.6 385.0,232.0 387.0,234.0 386.0,238.0 388.0,241.0 388.0,244.0 392.0,244.0 399.0,246.0 404.0,249.0 407.0,245.0 412.0,244.0 417.0,246.0 418.0,247.0 424.0,247.4 430.0,248.6 434.0,248.0 438.4,248.4 440.0,252.4 438.8,256.8 437.2,254.0 435.6,251.2 437.4,255.6 440.0,260.0 442.4,265.0 445.0,270.0 445.6,271.4 419.6,271.4 419.0,273.0 418.0,276.6 397.0,268.0 389.0,267.4 382.4,271.4 376.4,276.0 372.0,278.6 364.0,273.0 354.0,266.0 344.4,259.4Z"/>
<path fill="#a50026" d="M344.4,259.4 354.0,266.0 364.0,273.0 372.0,278.6 376.4,276.0 382.4,271.4 389.0,267.4 397.0,268.0 418.0,276.6 419.0,273.0 419.6,271.4 445.6,271.4 447.0,274.0 448.5,278.0 450.5,282.0 452.5,286.0 455.0,289.5 458.0,292.5 460.5,295.5 461.5,298.3 465.0,301.5 470.0,300.5 475.0,299.2 479.8,297.8 480.0,301.0 478.5,306.0 476.5,311.0 474.0,316.0 470.5,321.0 467.0,325.0 463.5,328.5 462.0,330.0 458.0,334.6 455.6,338.0 443.0,330.0 442.0,319.0 438.0,319.6 433.0,319.0 428.0,317.0 422.0,315.6 416.0,316.0 410.0,316.4 406.0,318.0 406.2,318.8 405.0,321.9 403.8,326.9 401.2,331.9 399.4,336.9 396.9,341.2 391.9,341.9 388.8,338.8 390.6,335.6 395.6,334.4 396.2,330.0 395.6,325.0 389.4,325.0 388.8,323.1 385.0,323.8 385.0,323.1 383.1,319.4 380.0,317.5 376.2,317.5 375.0,315.6 373.1,313.5 370.0,313.8 365.0,314.8 360.0,316.2 355.0,316.0 350.0,316.5 345.6,317.5 342.5,315.6 338.8,313.1 335.0,310.0 332.5,306.2 330.0,301.9 326.9,298.8 325.0,296.2 324.4,290.0 325.0,285.0 326.0,280.0 325.6,275.6 325.0,272.5 333.8,272.5 333.8,261.2 339.0,260.6Z"/>
<path fill="#d73027" d="M439.8,308.0 441.5,303.0 443.5,299.0 445.5,294.0 447.5,291.0 450.5,290.5 453.5,291.5 456.0,293.0 458.0,295.5 459.5,297.5 458.5,299.5 460.5,300.5 462.0,302.0 463.5,304.5 467.0,306.5 472.0,308.5 470.5,310.5 468.0,313.0 465.0,315.5 461.0,317.5 458.0,318.5 454.5,319.5 451.0,318.0 447.5,317.0 445.0,315.0 442.5,312.0 440.5,309.5Z"/>
<path fill="#d73027" d="M385.0,323.8 388.8,323.1 389.4,325.0 395.6,325.0 396.2,330.0 395.6,334.4 390.6,335.6 389.4,338.1 386.9,334.4 384.4,330.0 384.0,326.9Z"/>
<path fill="#d73027" d="M391.9,341.2 391.6,343.0 393.0,349.0 394.0,356.0 393.6,361.0 391.0,366.0 390.0,372.0 390.4,378.0 393.0,385.0 395.6,391.0 397.0,397.0 399.0,404.0 399.6,404.4 405.0,404.0 408.0,399.0 409.0,396.0 415.0,396.0 418.0,396.4 423.0,393.0 427.0,389.0 431.0,387.0 433.6,389.0 434.4,394.0 433.6,397.0 436.0,396.4 439.0,394.0 442.0,391.0 443.0,387.0 441.0,383.6 444.0,380.0 449.0,376.0 453.0,372.0 455.6,367.0 456.0,361.0 455.6,356.4 454.0,351.0 452.0,346.0 453.0,342.0 455.6,338.0 443.0,330.0 442.0,319.0 438.0,319.6 433.0,319.0 428.0,317.0 422.0,315.6 416.0,316.0 410.0,316.4 406.0,318.0 405.0,321.2 403.8,326.2 401.2,331.2 399.4,336.2 396.9,340.6Z"/>
<path fill="#f46d43" d="M399.6,404.4 405.0,404.0 408.0,399.0 409.0,396.0 415.0,396.0 418.0,396.4 423.0,393.0 427.0,389.0 431.0,387.0 433.6,389.0 434.4,394.0 433.6,397.0 436.0,396.4 435.6,400.0 433.0,404.0 429.0,409.0 425.0,413.0 421.0,415.0 415.0,416.0 410.0,418.0 406.0,419.6 403.0,415.0 402.0,410.0Z"/>
<path fill="#fdae61" d="M423.0,406.0 426.0,403.6 428.4,405.6 426.0,409.0 423.6,408.4Z"/>
<path fill="#d73027" d="M432.4,396.0 434.4,395.6 435.0,399.0 433.0,400.0 432.0,398.0Z"/>
<path fill="#d73027" d="M475.0,361.0 477.0,362.4 478.0,368.0 476.0,374.0 473.6,380.0 471.0,387.0 469.0,393.0 465.6,395.6 462.0,394.0 461.0,389.0 462.0,384.0 464.0,379.0 463.6,374.0 466.0,371.0 470.0,369.0 473.0,365.0Z"/>
<path fill="#d73027" d="M438.5,248.5 440.0,252.5 441.9,250.6 444.4,248.8 446.9,246.2 450.0,246.0 453.8,247.5 457.5,249.4 461.2,251.2 465.0,252.5 468.1,251.9 469.4,250.0 468.1,247.5 466.2,244.4 464.4,241.2 463.1,238.1 461.9,235.0 460.6,233.8 458.8,230.0 457.5,231.9 453.8,231.9 450.0,232.5 445.0,232.5 441.2,233.1 440.6,233.8 440.0,238.8 439.4,242.5 438.8,246.2Z"/>
<path fill="#a50026" d="M440.0,252.5 441.9,250.6 444.4,248.8 446.9,246.2 450.0,246.0 453.8,247.5 457.5,249.4 461.2,251.2 465.0,252.5 468.1,251.9 470.0,250.6 471.9,252.5 473.8,256.2 475.6,260.0 477.5,261.9 478.1,265.0 479.4,265.0 479.8,262.8 481.2,266.2 483.1,266.2 485.0,265.6 487.5,264.4 489.0,261.5 490.0,263.8 491.9,265.6 495.0,268.1 497.8,271.0 497.0,275.0 494.0,279.5 489.0,284.0 485.0,286.0 480.0,289.0 475.0,291.5 470.0,294.0 465.0,296.2 462.2,297.5 461.8,295.5 460.8,292.0 460.5,288.5 459.5,285.0 457.5,282.0 456.0,279.0 454.0,276.0 452.0,273.0 451.2,270.2 448.1,265.6 444.8,260.6 442.1,256.9Z"/>
<path fill="#fdae61" d="M9.0,276.5 11.0,276.0 12.0,277.5 10.6,279.4 9.2,279.0Z"/>
<path fill="#fdae61" d="M6.9,273.2 8.2,273.5 9.5,274.8 8.2,274.5Z"/>
<path fill="#fdae61" d="M5.0,272.5 6.0,272.5 6.2,273.5 5.2,273.4Z"/>
<path fill="#fdae61" d="M1.9,271.0 3.2,270.9 3.5,271.8 2.1,271.8Z"/>
<path fill="#a50026" d="M305.2,284.0 306.6,284.0 306.6,285.4 305.4,285.4Z"/>
<path fill="#a50026" d="M309.2,285.6 310.6,285.6 310.8,287.4 309.6,287.4Z"/>
<path fill="#a50026" d="M307.2,289.0 309.2,288.6 309.4,290.0 307.6,290.2Z"/>
<path fill="#d73027" d="M462.0,359.6 463.6,359.2 465.0,361.2 463.4,361.6Z"/>
<path fill="#d73027" d="M492.4,381.2 494.0,381.2 494.0,382.8 492.6,382.8Z"/>
<path fill="#d73027" d="M489.8,340.8 491.0,340.8 491.0,341.8 489.8,341.8Z"/>
<g fill="none" stroke="#555" stroke-width="0.35" opacity="0.8">
<path d="M344.4,216.9 347.5,217.2 348.1,220.0 346.9,224.4 347.5,228.8 346.9,231.9"/>
<path d="M366.9,198.1 370.0,199.4 373.8,200.6 376.9,201.9 376.2,205.0 376.0,207.5"/>
<path d="M371.9,195.0 373.8,196.2 375.0,198.1 375.6,200.6 376.9,201.9"/>
<path d="M375.6,190.6 376.5,193.8 375.0,195.6 373.8,196.2"/>
<path d="M376.2,215.0 375.6,212.5 376.9,210.0 376.2,208.8"/>
<path d="M395.6,208.1 400.0,206.9 405.0,205.0 409.4,204.8 408.1,207.5 405.0,210.0 400.6,211.2 396.9,210.6 395.6,208.1"/>
<path d="M408.1,204.8 413.8,203.1 418.8,203.8 421.9,206.9 424.4,210.6 423.5,212.5 417.5,213.8 411.9,213.1 408.1,210.6"/>
<path d="M411.9,213.5 411.5,216.2 412.5,219.4 416.2,220.6 421.2,220.2"/>
<path d="M405.0,210.2 403.8,215.0 405.6,217.5 407.5,220.6 410.0,220.0 411.9,218.1"/>
<path d="M421.9,203.8 425.0,206.2 426.2,209.4 424.4,210.6"/>
<path d="M389.4,209.4 392.5,208.8 395.6,208.1"/>
<path d="M391.9,210.6 395.0,211.2 398.8,212.5 403.8,215.0"/>
<path d="M405.0,220.6 407.5,220.6 410.0,224.4"/>
<path d="M390.0,187.2 390.6,190.6 390.6,193.8 388.1,197.5"/>
<path d="M385.6,205.6 383.1,204.4 380.0,205.0 376.2,205.0"/>
<path d="M390.0,204.4 388.1,201.9 388.1,199.4"/>
<path d="M403.1,181.2 407.5,180.2 412.5,180.6 415.6,181.2"/>
<path d="M403.5,184.4 408.1,183.8 412.5,184.4 416.2,183.8"/>
<path d="M461.9,284.4 466.2,283.1 471.2,284.4 476.2,281.2 481.2,279.4 488.1,276.2 488.8,271.2 485.0,270.0 481.2,268.8 480.0,266.5"/>
<path d="M481.2,279.4 482.5,282.5 484.0,285.2"/>
<path d="M488.8,271.2 488.1,266.9 488.8,263.1"/>
<path d="M446.9,246.2 449.0,242.5 452.5,238.8 452.8,235.0 451.9,232.5"/>
<path d="M440.6,243.8 444.4,245.0 446.9,246.2"/>
<path d="M440.0,252.5 440.6,247.5 440.6,243.8 440.0,240.6"/>
<path d="M468.1,251.9 468.8,250.0 470.0,250.6"/>
<path d="M519.0,266.0 523.0,263.0 521.0,258.0 525.0,252.0 528.0,249.0 526.0,244.0 530.0,241.0 532.0,239.0"/>
<path d="M571.0,273.0 573.0,267.0 577.0,260.0 580.0,255.0"/>
<path d="M590.0,275.6 591.9,273.8 592.8,271.9"/>
<path d="M597.5,270.6 598.8,273.1 601.2,274.4 600.0,276.9 601.9,279.4 604.4,282.5 606.9,286.2 608.1,290.0 608.1,291.9"/>
<path d="M599.8,292.5 602.5,291.9 605.0,291.5"/>
<path d="M480.0,219.4 482.5,220.6 486.2,218.1 490.0,218.8 495.0,221.2 500.0,223.1 503.8,226.2 506.2,228.8"/>
<path d="M507.5,224.4 510.0,223.1 513.8,221.2 515.0,224.4 518.8,223.8 522.5,224.4"/>
<path d="M456.2,221.5 459.4,221.5"/>
<path d="M627.8,223.8 631.2,220.0 635.6,218.1 637.2,216.9"/>
<path d="M223.6,304.4 222.4,310.0 225.0,315.0 223.0,320.0"/>
<path d="M230.0,310.0 231.0,317.0 230.0,322.0"/>
<path d="M203.0,326.0 210.0,327.0 213.0,322.0 218.0,323.0 223.0,320.0 227.0,323.0 230.0,322.0 236.0,322.0 240.0,323.0"/>
<path d="M180.0,326.4 184.0,327.0 189.0,329.0 189.6,332.0"/>
<path d="M223.0,381.0 227.0,379.0 231.0,378.0"/>
<path d="M237.0,408.0 235.6,412.0 236.0,417.0 238.0,419.6"/>
<path d="M382.4,234.0 381.0,239.0 383.0,244.0 385.0,247.0 384.0,255.0 386.0,264.0 389.0,267.4"/>
<path d="M385.0,247.0 387.6,244.0 388.0,241.4"/>
<path d="M418.0,247.0 419.0,257.0 419.0,271.4"/>
<path d="M348.8,263.1 350.6,288.8 341.2,289.0 336.9,290.0 334.4,287.8 330.0,285.6 325.0,284.8"/>
<path d="M371.9,278.8 372.8,284.4 371.9,288.1 367.5,288.8 362.5,290.6 365.0,292.5 366.9,296.2 370.0,297.5 371.9,293.1 377.5,294.4 383.8,295.2 392.5,294.0 395.6,295.0"/>
<path d="M362.5,290.6 358.8,290.6 355.0,293.1 351.9,298.1 351.9,302.5 356.2,303.1 356.9,300.2 363.8,300.6 368.1,300.0 370.0,297.5"/>
<path d="M396.9,268.8 398.8,278.8 395.0,287.5 393.8,292.5 395.6,295.0 396.2,298.1 397.5,301.2 395.0,305.0 398.8,309.4 405.0,307.5 411.2,303.8 415.0,300.0"/>
<path d="M417.5,277.5 417.5,287.5 414.4,292.5 415.0,298.8 416.9,302.5 418.1,305.0"/>
<path d="M396.9,301.2 393.1,307.5 388.8,311.9 385.0,315.0 383.8,317.5"/>
<path d="M371.9,293.1 370.0,298.8 369.4,305.0 369.0,313.1"/>
<path d="M366.9,300.6 366.2,313.5"/>
<path d="M364.4,300.6 364.4,313.8"/>
<path d="M356.9,300.6 356.2,307.5 355.6,315.6"/>
<path d="M345.0,302.5 344.4,310.0 345.0,316.2"/>
<path d="M330.0,296.9 336.2,297.5 341.2,296.9 343.8,300.6 345.0,302.5 351.9,302.5"/>
<path d="M336.9,290.0 336.2,295.0 337.5,296.9"/>
<path d="M325.0,291.2 330.0,291.9 335.6,292.5"/>
<path d="M330.0,301.9 332.5,302.5 335.0,305.0 337.5,310.0"/>
<path d="M398.8,309.4 396.9,313.8 397.5,320.0 400.0,323.1 385.0,323.1"/>
<path d="M419.0,302.0 424.0,304.0 430.0,303.0 436.0,301.0 439.0,298.0 441.0,304.0"/>
<path d="M419.0,305.0 424.0,311.0 430.0,316.0 433.0,318.6"/>
<path d="M450.0,285.0 450.0,292.0"/>
<path d="M458.1,318.8 458.8,333.1"/>
<path d="M435.0,319.4 433.8,325.0 431.9,330.0 431.2,335.0 432.5,338.8 431.9,343.8 432.5,350.0"/>
<path d="M443.1,331.2 441.9,331.2 437.5,331.9 433.8,331.2"/>
<path d="M432.5,350.0 428.8,351.2 428.1,355.0 428.8,360.0 431.2,362.5 430.0,358.8 432.5,355.0 438.1,352.5 440.0,355.0 441.2,360.0 445.0,362.5"/>
<path d="M438.1,352.5 442.5,352.5 447.5,358.8 455.0,356.9"/>
<path d="M391.9,341.9 397.5,341.9 400.6,342.5 403.1,348.1 410.0,348.1 413.1,350.0 413.8,355.0 417.5,357.5"/>
<path d="M417.5,357.5 413.1,359.4 413.1,366.2 413.8,370.0"/>
<path d="M417.5,357.5 423.8,358.8 428.8,360.0"/>
<path d="M390.0,373.6 405.0,374.4 413.0,374.0 420.0,375.0"/>
<path d="M411.0,376.0 410.0,390.0 408.0,399.0"/>
<path d="M420.0,375.0 421.0,376.0 428.0,384.0 431.0,387.0"/>
<path d="M421.0,376.0 427.0,372.0 432.0,370.0 438.0,370.0"/>
<path d="M438.0,370.0 439.0,366.0 440.0,358.0"/>
<path d="M431.0,387.0 436.0,382.0 439.0,378.0 438.0,370.0"/>
</g>
</g>
<g id="legend" font-size="13" fill="#5b5b5b" text-anchor="middle">
<rect x="98.5" y="537.5" width="48" height="11" fill="url(#hatch)" stroke="#c8c8c8" stroke-width="1"/>
<line x1="122.5" y1="533.5" x2="122.5" y2="537" stroke="#aaa" stroke-width="0.8"/>
<text x="122.5" y="530">No data</text>
<path d="M166.3,543 L172,537.2 H224.5 V548.6 H172 Z" fill="#08306b"/>
<rect x="224.5" y="537.2" width="58.5" height="11.4" fill="#2166ac"/>
<rect x="283" y="537.2" width="58.5" height="11.4" fill="#4393c3"/>
<rect x="341.5" y="537.2" width="58.5" height="11.4" fill="#92c5de"/>
<rect x="400" y="537.2" width="58.5" height="11.4" fill="#ffffbf"/>
<rect x="458.5" y="537.2" width="58.5" height="11.4" fill="#fee090"/>
<rect x="517" y="537.2" width="58.5" height="11.4" fill="#fdae61"/>
<rect x="575.5" y="537.2" width="58.5" height="11.4" fill="#f46d43"/>
<rect x="634" y="537.2" width="58.5" height="11.4" fill="#d73027"/>
<path d="M692.5,537.2 H746.5 L751.8,543 L746.5,548.6 H692.5 Z" fill="#a50026"/>
<g stroke="#666" stroke-width="0.6" opacity="0.7">
<line x1="224.5" y1="533" x2="224.5" y2="548.6"/><line x1="283" y1="533" x2="283" y2="548.6"/><line x1="341.5" y1="533" x2="341.5" y2="548.6"/><line x1="400" y1="533" x2="400" y2="548.6"/><line x1="458.5" y1="533" x2="458.5" y2="548.6"/><line x1="517" y1="533" x2="517" y2="548.6"/><line x1="575.5" y1="533" x2="575.5" y2="548.6"/><line x1="634" y1="533" x2="634" y2="548.6"/><line x1="692.5" y1="533" x2="692.5" y2="548.6"/>
</g>
<text x="224.5" y="530">-15 °C</text><text x="283" y="530">-10 °C</text><text x="341.5" y="530">-5 °C</text><text x="400" y="530">0 °C</text><text x="458.5" y="530">5 °C</text><text x="517" y="530">10 °C</text><text x="575.5" y="530">15 °C</text><text x="634" y="530">20 °C</text><text x="692.5" y="530">25 °C</text>
</g>
</svg>
</body></html>
